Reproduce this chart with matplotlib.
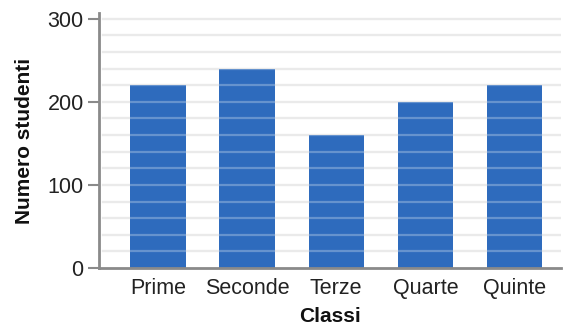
import matplotlib
matplotlib.use("Agg")
import matplotlib.pyplot as plt
from matplotlib.ticker import MultipleLocator
import numpy as np

categories = ["Prime", "Seconde", "Terze", "Quarte", "Quinte"]
values = [220, 240, 160, 200, 220]
yticks = [0, 100, 200, 300]
xlabel = "Classi"
ylabel = "Numero studenti"

plt.rcParams['font.family'] = ['Liberation Sans', 'DejaVu Sans']

fig = plt.figure(figsize=(5.64, 3.27), dpi=100)
ax = fig.add_axes([99/564, 1 - 268/327, (561-99)/564, (268-13)/327])

x = np.arange(len(categories))
ax.bar(x, values, width=0.62, color="#2e6bbd", zorder=2)

ax.set_xlim(-0.66, 4.52)
ax.set_ylim(0, 307)
ax.set_yticks(yticks)
ax.yaxis.set_minor_locator(MultipleLocator(20))
ax.tick_params(axis='y', which='minor', length=0)
ax.tick_params(axis='y', which='major', length=8, width=1.5, color="#8a8a8a",
               labelsize=15.5, labelcolor="#222222", pad=3)
ax.set_xticks(x)
ax.set_xticklabels(categories)
ax.tick_params(axis='x', length=0, labelsize=15.5, labelcolor="#222222", pad=7)

gridlevels = [v for v in np.arange(20, 301, 20)]
for g in gridlevels:
    ax.axhline(g, xmin=0.008, color="#e3e3e3", lw=1.6, zorder=1)
    ax.axhline(g, xmin=0.008, color="white", alpha=0.27, lw=1.6, zorder=3)

for s in ["top", "right"]:
    ax.spines[s].set_visible(False)
ax.spines["left"].set_color("#8a8a8a")
ax.spines["left"].set_linewidth(2)
ax.spines["bottom"].set_color("#8a8a8a")
ax.spines["bottom"].set_linewidth(2)
ax.spines["bottom"].set_zorder(4)

ax.set_xlabel(xlabel, fontsize=15, fontweight="bold", labelpad=6, color="#111111")
ax.set_ylabel(ylabel, fontsize=15, fontweight="bold", labelpad=10, color="#111111")

fig.savefig("out.png", dpi=100)
